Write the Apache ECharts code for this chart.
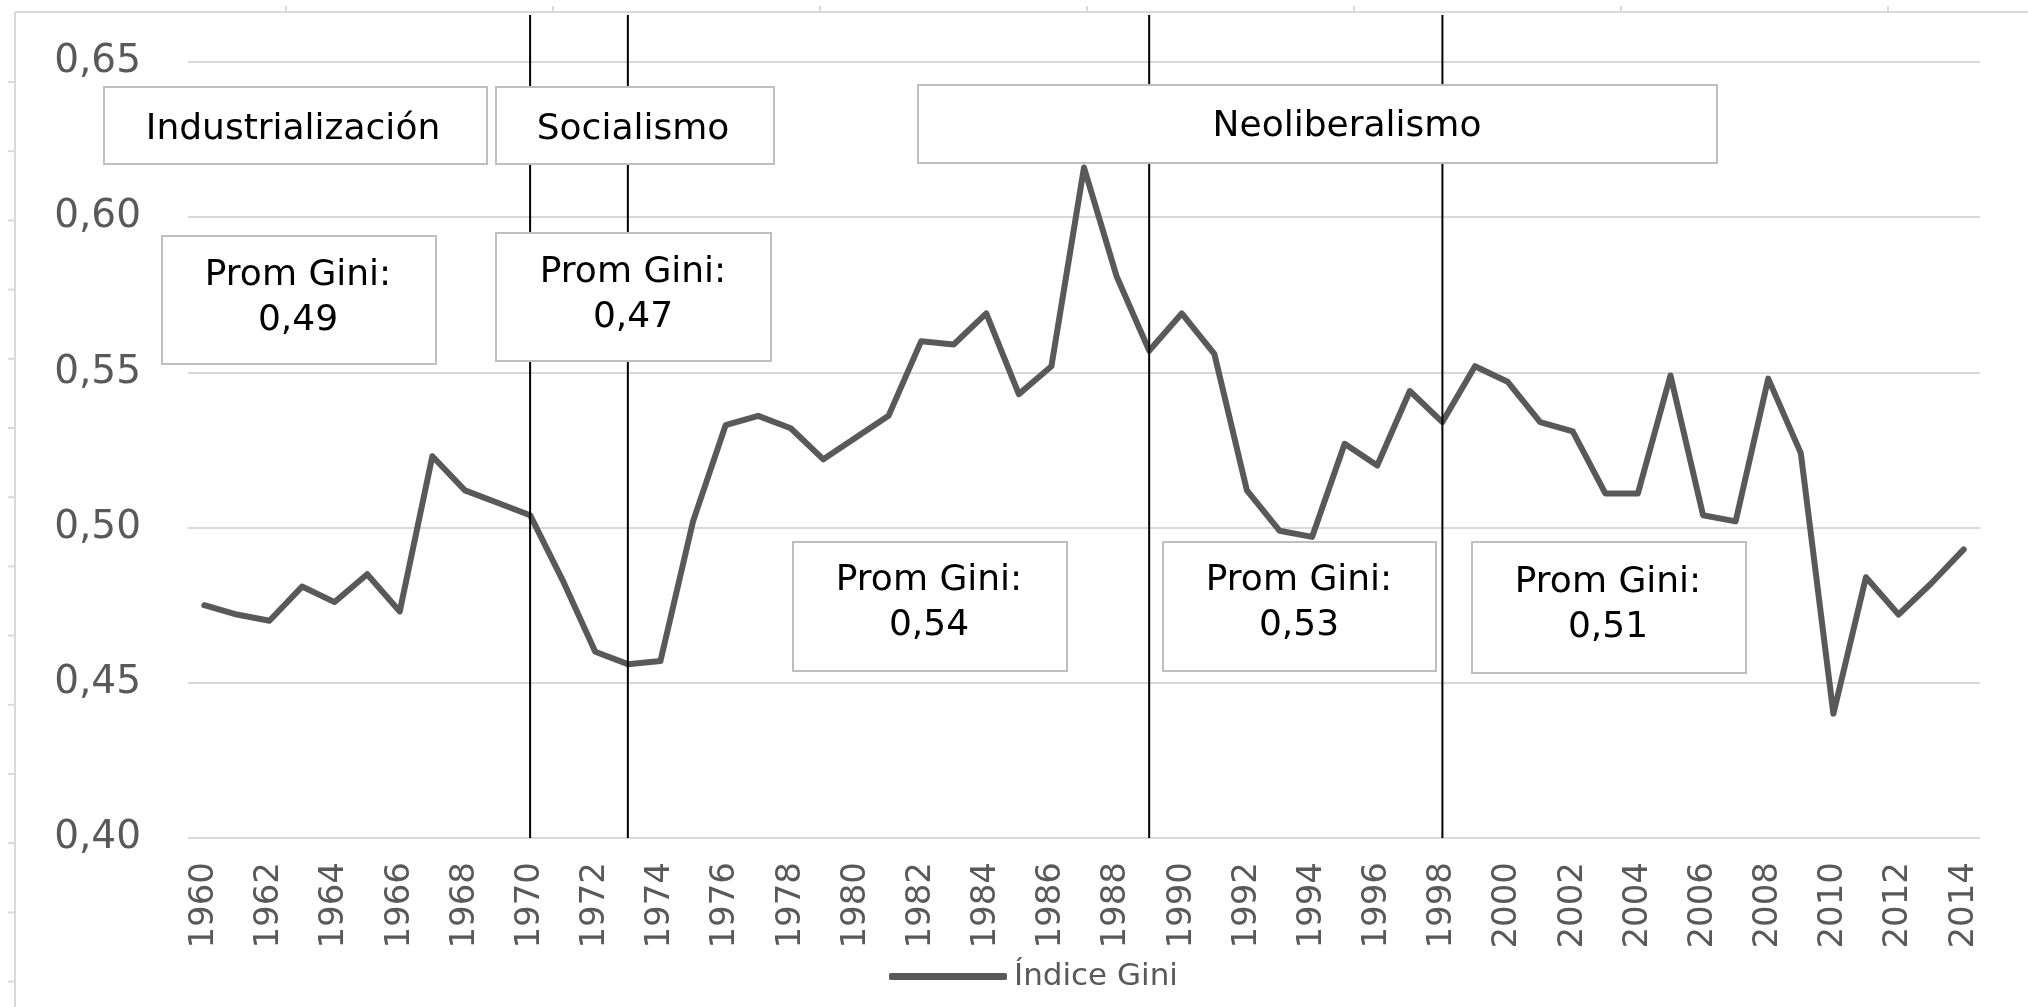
<!DOCTYPE html>
<html><head><meta charset="utf-8">
<script src="https://cdn.jsdelivr.net/npm/echarts@6/dist/echarts.min.js"></script>
<style>html,body{margin:0;padding:0;background:#fff}#c{width:2028px;height:1007px}</style>
</head><body><div id="c"></div>
<script>
const years = ['1960','1961','1962','1963','1964','1965','1966','1967','1968','1969',
  '1970','1971','1972','1973','1974','1975','1976','1977','1978','1979',
  '1980','1981','1982','1983','1984','1985','1986','1987','1988','1989',
  '1990','1991','1992','1993','1994','1995','1996','1997','1998','1999',
  '2000','2001','2002','2003','2004','2005','2006','2007','2008','2009',
  '2010','2011','2012','2013','2014'];
const gini = [0.475,0.472,0.470,0.481,0.476,0.485,0.473,0.523,0.512,0.508,
  0.504,0.483,0.460,0.456,0.457,0.502,0.533,0.536,0.532,0.522,
  0.529,0.536,0.560,0.559,0.569,0.543,0.552,0.616,0.581,0.557,
  0.569,0.556,0.512,0.499,0.497,0.527,0.520,0.544,0.534,0.552,
  0.547,0.534,0.531,0.511,0.511,0.549,0.504,0.502,0.548,0.524,
  0.440,0.484,0.472,0.482,0.493];
const yMin = 0.40, yMax = 0.65, yStep = 0.05;
const seriesName = 'Índice Gini';
const periodNames = ['Industrialización','Socialismo','Neoliberalismo'];
const averageLabel = 'Prom Gini:';
const periodAverages = ['0,49','0,47','0,54','0,53','0,51'];
const dividerYears = ['1970','1973','1989','1998'];

const FONT = '"DejaVu Sans", sans-serif';
const chart = echarts.init(document.getElementById('c'));
chart.setOption({
  animation: false,
  backgroundColor: '#ffffff',
  grid: {left: 188, right: 48, top: 62, bottom: 169},
  legend: {
    data: [{name: seriesName, icon: 'roundRect'}], left: 889, top: 961, padding: 0,
    itemWidth: 118, itemHeight: 7, itemGap: 10,
    itemStyle: {color: '#595959', borderWidth: 0},
    textStyle: {color: '#595959', fontSize: 31, fontFamily: FONT, padding: [0, 0, 0, 2]}
  },
  xAxis: {
    type: 'category', data: years, boundaryGap: true,
    axisLine: {show: false}, axisTick: {show: false},
    axisLabel: {interval: 1, rotate: 90, margin: 24, color: '#595959', fontSize: 34, fontFamily: FONT}
  },
  yAxis: {
    type: 'value', min: yMin, max: yMax, interval: yStep,
    axisLine: {show: false}, axisTick: {show: false},
    splitLine: {lineStyle: {color: '#d9d9d9', width: 2}},
    axisLabel: {margin: 47, color: '#595959', fontSize: 39, fontFamily: FONT,
      formatter: v => v.toFixed(2).replace('.', ',')}
  },
  series: [{
    name: seriesName, type: 'line', data: gini, symbol: 'none', z: 2,
    lineStyle: {color: '#595959', width: 6, cap: 'round', join: 'round'},
    itemStyle: {color: '#595959'}
  }]
});

const els = [];
// faint outer frame with ruler ticks
els.push({type: 'line', z: 1, shape: {x1: 15, y1: 12, x2: 2028, y2: 12}, style: {stroke: '#d9d9d9', lineWidth: 2}});
els.push({type: 'line', z: 1, shape: {x1: 15, y1: 12, x2: 15, y2: 1007}, style: {stroke: '#d9d9d9', lineWidth: 2}});
for (let x = 286; x < 2028; x += 267) {
  els.push({type: 'line', z: 1, shape: {x1: x, y1: 6, x2: x, y2: 12}, style: {stroke: '#d9d9d9', lineWidth: 2}});
}
for (let y = 82; y < 1007; y += 69.2) {
  els.push({type: 'line', z: 1, shape: {x1: 8, y1: y, x2: 15, y2: y}, style: {stroke: '#d9d9d9', lineWidth: 2}});
}
// period divider lines
const yBottom = chart.convertToPixel({yAxisIndex: 0}, yMin);
dividerYears.forEach(yr => {
  const x = chart.convertToPixel({xAxisIndex: 0}, yr);
  els.push({type: 'line', z: 5, shape: {x1: x, y1: 15, x2: x, y2: yBottom}, style: {stroke: '#000000', lineWidth: 2}});
});
// annotation boxes
function box(x, y, w, h, text, cx, cy) {
  els.push({type: 'rect', z: 10, shape: {x: x, y: y, width: w, height: h},
    style: {fill: '#ffffff', stroke: '#bfbfbf', lineWidth: 2}});
  els.push({type: 'text', z: 11, style: {text: text, x: cx, y: cy, fill: '#000000',
    font: '36px ' + FONT, textAlign: 'center', textVerticalAlign: 'middle', lineHeight: 45}});
}
box(104, 87, 383, 77, periodNames[0], 293, 130);
box(496, 87, 278, 77, periodNames[1], 633, 130);
box(918, 85, 799, 78, periodNames[2], 1347, 127);
box(162, 236, 274, 128, averageLabel + '\n' + periodAverages[0], 298, 298);
box(496, 233, 275, 128, averageLabel + '\n' + periodAverages[1], 633, 295);
box(793, 542, 274, 129, averageLabel + '\n' + periodAverages[2], 929, 603);
box(1163, 542, 273, 129, averageLabel + '\n' + periodAverages[3], 1299, 603);
box(1472, 542, 274, 131, averageLabel + '\n' + periodAverages[4], 1608, 605);
chart.setOption({graphic: {elements: els}});
</script></body></html>
